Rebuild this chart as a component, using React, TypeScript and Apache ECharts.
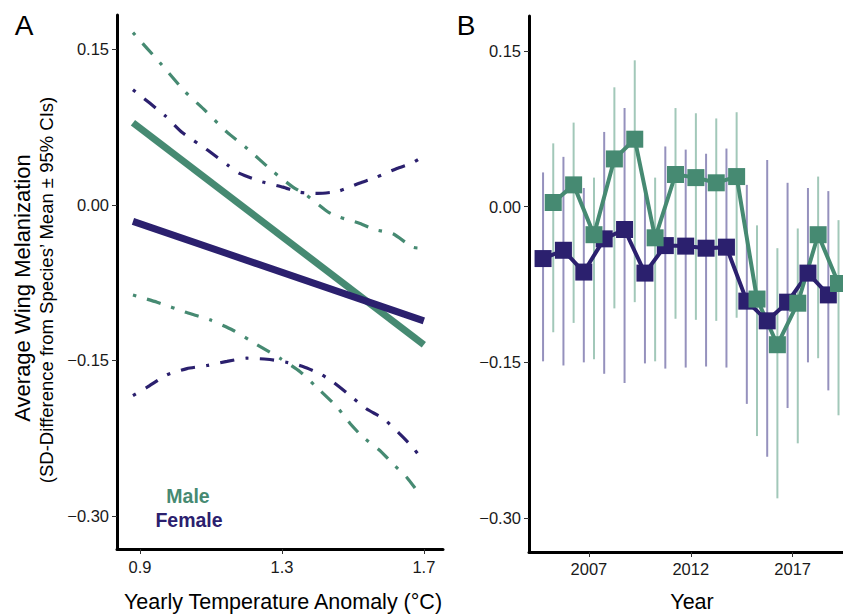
import React, { useEffect, useRef } from "react";
import * as echarts from "echarts";

// ---------- Panel A data (Yearly temperature anomaly vs melanization) ----------
const maleFitX = [0.88, 1.7];
const maleFitY = [0.079, -0.135];
const femaleFitX = [0.88, 1.7];
const femaleFitY = [-0.016, -0.112];

const maleUpperX = [0.88, 0.956, 1.027, 1.083, 1.145, 1.196, 1.275, 1.331, 1.37, 1.43, 1.463, 1.52, 1.562, 1.613, 1.669, 1.7];
const maleUpperY = [0.166, 0.137, 0.109, 0.091, 0.07, 0.056, 0.032, 0.017, 0.009, -0.007, -0.012, -0.018, -0.024, -0.028, -0.041, -0.042];

const femaleUpperX = [0.88, 0.97, 1.018, 1.089, 1.148, 1.182, 1.246, 1.303, 1.351, 1.401, 1.458, 1.52, 1.562, 1.624, 1.666, 1.7];
const femaleUpperY = [0.111, 0.086, 0.07, 0.053, 0.038, 0.03, 0.022, 0.017, 0.012, 0.011, 0.013, 0.021, 0.026, 0.035, 0.04, 0.047];

const maleLowerX = [0.88, 0.948, 1.032, 1.097, 1.162, 1.23, 1.294, 1.351, 1.407, 1.455, 1.492, 1.528, 1.576, 1.613, 1.652, 1.69];
const maleLowerY = [-0.087, -0.094, -0.104, -0.111, -0.121, -0.135, -0.148, -0.161, -0.179, -0.195, -0.211, -0.224, -0.237, -0.25, -0.263, -0.28];

const femaleLowerX = [0.88, 0.92, 0.976, 1.032, 1.089, 1.145, 1.201, 1.258, 1.314, 1.359, 1.407, 1.444, 1.492, 1.539, 1.585, 1.632, 1.669, 1.7];
const femaleLowerY = [-0.184, -0.176, -0.164, -0.158, -0.155, -0.151, -0.148, -0.149, -0.152, -0.156, -0.163, -0.171, -0.184, -0.197, -0.206, -0.221, -0.234, -0.248];

const tempTicks = [0.9, 1.3, 1.7];
const valueTicks = [-0.3, -0.15, 0, 0.15];

// ---------- Panel B data (Year) ----------
const years = [2005, 2006, 2007, 2008, 2009, 2010, 2011, 2012, 2013, 2014, 2015, 2016, 2017, 2018, 2019];
const femaleMean = [-0.05, -0.042, -0.063, -0.031, -0.022, -0.064, -0.0375, -0.038, -0.04, -0.039, -0.091, -0.11, -0.092, -0.064, -0.085];
const femaleLow = [-0.149, -0.153, -0.15, -0.161, -0.17, -0.151, -0.156, -0.155, -0.154, -0.155, -0.19, -0.241, -0.194, -0.15, -0.177];
const femaleHigh = [0.033, 0.048, 0.018, 0.072, 0.095, 0.02, 0.058, 0.055, 0.051, 0.056, 0.021, 0.045, 0.023, 0.018, 0.015];
const maleMean = [0.004, 0.021, -0.027, 0.046, 0.065, -0.03, 0.031, 0.028, 0.023, 0.029, -0.089, -0.133, -0.093, -0.027, -0.074];
const maleLow = [-0.121, -0.112, -0.147, -0.098, -0.092, -0.149, -0.108, -0.109, -0.11, -0.107, -0.221, -0.281, -0.228, -0.146, -0.201];
const maleHigh = [0.061, 0.081, 0.028, 0.115, 0.141, 0.028, 0.095, 0.09, 0.085, 0.091, -0.018, -0.04, -0.021, 0.029, -0.013];
const yearTicks = [2007, 2012, 2017];

const GREEN = "#468a72";
const PURPLE = "#2b206e";
const GREEN_LIGHT = "#a2c8b9";
const PURPLE_LIGHT = "#9591bd";
const FONT = "'Liberation Sans', Arial, Helvetica, sans-serif";

const pairs = (xs: number[], ys: number[]) => xs.map((x, i) => [x, ys[i]]);
const fmtVal = (v: number) => {
  const s = Math.abs(v).toFixed(2);
  return v < -1e-9 ? "\u2212" + s : s;
};

export default function App() {
  const ref = useRef<HTMLDivElement>(null);

  useEffect(() => {
    if (!ref.current) return;
    const chart = echarts.init(ref.current, undefined, { renderer: "svg" });

    const axisLine = { show: true, onZero: false, lineStyle: { color: "#000", width: 3 } };
    const axisTick = (vals: number[]) => ({
      show: true,
      length: 5,
      customValues: vals,
      lineStyle: { color: "#333", width: 1 },
    });
    const labelStyle = { color: "#1a1a1a", fontSize: 16.5, fontFamily: FONT };

    const dotdash = (data: number[][], color: string) => ({
      type: "line",
      xAxisIndex: 0,
      yAxisIndex: 0,
      data,
      symbol: "none",
      smooth: 0.2,
      silent: true,
      lineStyle: { color, width: 3.2, type: [3.5, 11, 14.5, 11], cap: "butt" },
    });

    const errBars = (xs: number[], lo: number[], hi: number[], color: string) => ({
      type: "custom",
      xAxisIndex: 1,
      yAxisIndex: 1,
      silent: true,
      encode: { x: 0, y: [1, 2] },
      data: xs.map((x, i) => [x, lo[i], hi[i]]),
      renderItem: (_params: any, api: any) => {
        const x = api.value(0);
        const p1 = api.coord([x, api.value(1)]);
        const p2 = api.coord([x, api.value(2)]);
        return {
          type: "line",
          shape: { x1: p1[0], y1: p1[1], x2: p2[0], y2: p2[1] },
          style: { stroke: color, lineWidth: 2 },
        };
      },
    });

    const femaleX = years.map((y) => y - 0.25);
    const maleX = years.map((y) => y + 0.25);

    const text = (
      str: string,
      x: number,
      y: number,
      size: number,
      opts: any = {}
    ) => ({
      type: "text",
      x,
      y,
      rotation: opts.rotation || 0,
      silent: true,
      style: {
        text: str,
        fill: opts.color || "#000",
        font: `${opts.weight || "normal"} ${size}px ${FONT}`,
        textAlign: opts.align || "center",
        textVerticalAlign: "middle",
      },
    });

    chart.setOption({
      animation: false,
      backgroundColor: "#fff",
      grid: [
        { left: 117, top: 15, width: 326, height: 534 },
        { left: 529, top: 16, width: 314, height: 536 },
      ],
      xAxis: [
        {
          type: "value",
          gridIndex: 0,
          min: 0.835,
          max: 1.754,
          axisLine,
          axisTick: axisTick(tempTicks),
          splitLine: { show: false },
          axisLabel: {
            ...labelStyle,
            customValues: tempTicks,
            margin: 9,
            formatter: (v: number) => v.toFixed(1),
          },
        },
        {
          type: "value",
          gridIndex: 1,
          min: 2004.06,
          max: 2019.47,
          axisLine,
          axisTick: axisTick(yearTicks),
          splitLine: { show: false },
          axisLabel: {
            ...labelStyle,
            customValues: yearTicks,
            margin: 8,
            formatter: (v: number) => String(Math.round(v)),
          },
        },
      ],
      yAxis: [
        {
          type: "value",
          gridIndex: 0,
          min: -0.332,
          max: 0.183,
          axisLine,
          axisTick: axisTick(valueTicks),
          splitLine: { show: false },
          axisLabel: { ...labelStyle, customValues: valueTicks, margin: 8, formatter: fmtVal },
        },
        {
          type: "value",
          gridIndex: 1,
          min: -0.3327,
          max: 0.1837,
          axisLine,
          axisTick: axisTick(valueTicks),
          splitLine: { show: false },
          axisLabel: { ...labelStyle, customValues: valueTicks, margin: 8, formatter: fmtVal },
        },
      ],
      graphic: [
        text("A", 24, 25, 28),
        text("B", 466, 25, 28),
        text("Average Wing Melanization", 22, 288, 22, { rotation: Math.PI / 2 }),
        text("(SD-Difference from Species\u2019 Mean \u00b1 95% CIs)", 46, 290, 18.5, {
          rotation: Math.PI / 2,
        }),
        text("Yearly Temperature Anomaly (\u00b0C)", 283, 602, 21.5),
        text("Year", 692, 602, 21.5),
        text("Male", 188, 496, 19.5, { color: GREEN, weight: "bold" }),
        text("Female", 189, 520, 19.5, { color: PURPLE, weight: "bold" }),
      ],
      series: [
        dotdash(pairs(maleUpperX, maleUpperY), GREEN),
        dotdash(pairs(maleLowerX, maleLowerY), GREEN),
        dotdash(pairs(femaleUpperX, femaleUpperY), PURPLE),
        dotdash(pairs(femaleLowerX, femaleLowerY), PURPLE),
        {
          type: "line",
          xAxisIndex: 0,
          yAxisIndex: 0,
          data: pairs(maleFitX, maleFitY),
          symbol: "none",
          silent: true,
          lineStyle: { color: GREEN, width: 7, cap: "butt" },
        },
        {
          type: "line",
          xAxisIndex: 0,
          yAxisIndex: 0,
          data: pairs(femaleFitX, femaleFitY),
          symbol: "none",
          silent: true,
          lineStyle: { color: PURPLE, width: 7, cap: "butt" },
        },
        errBars(femaleX, femaleLow, femaleHigh, PURPLE_LIGHT),
        errBars(maleX, maleLow, maleHigh, GREEN_LIGHT),
        {
          type: "line",
          xAxisIndex: 1,
          yAxisIndex: 1,
          data: pairs(femaleX, femaleMean),
          symbol: "rect",
          symbolSize: 17,
          silent: true,
          itemStyle: { color: PURPLE },
          lineStyle: { color: PURPLE, width: 4 },
        },
        {
          type: "line",
          xAxisIndex: 1,
          yAxisIndex: 1,
          data: pairs(maleX, maleMean),
          symbol: "rect",
          symbolSize: 17,
          silent: true,
          itemStyle: { color: GREEN },
          lineStyle: { color: GREEN, width: 4 },
        },
      ],
    });

    return () => chart.dispose();
  }, []);

  return (
    <div
      ref={ref}
      style={{ position: "absolute", left: 0, top: 0, width: 843, height: 615 }}
    />
  );
}
